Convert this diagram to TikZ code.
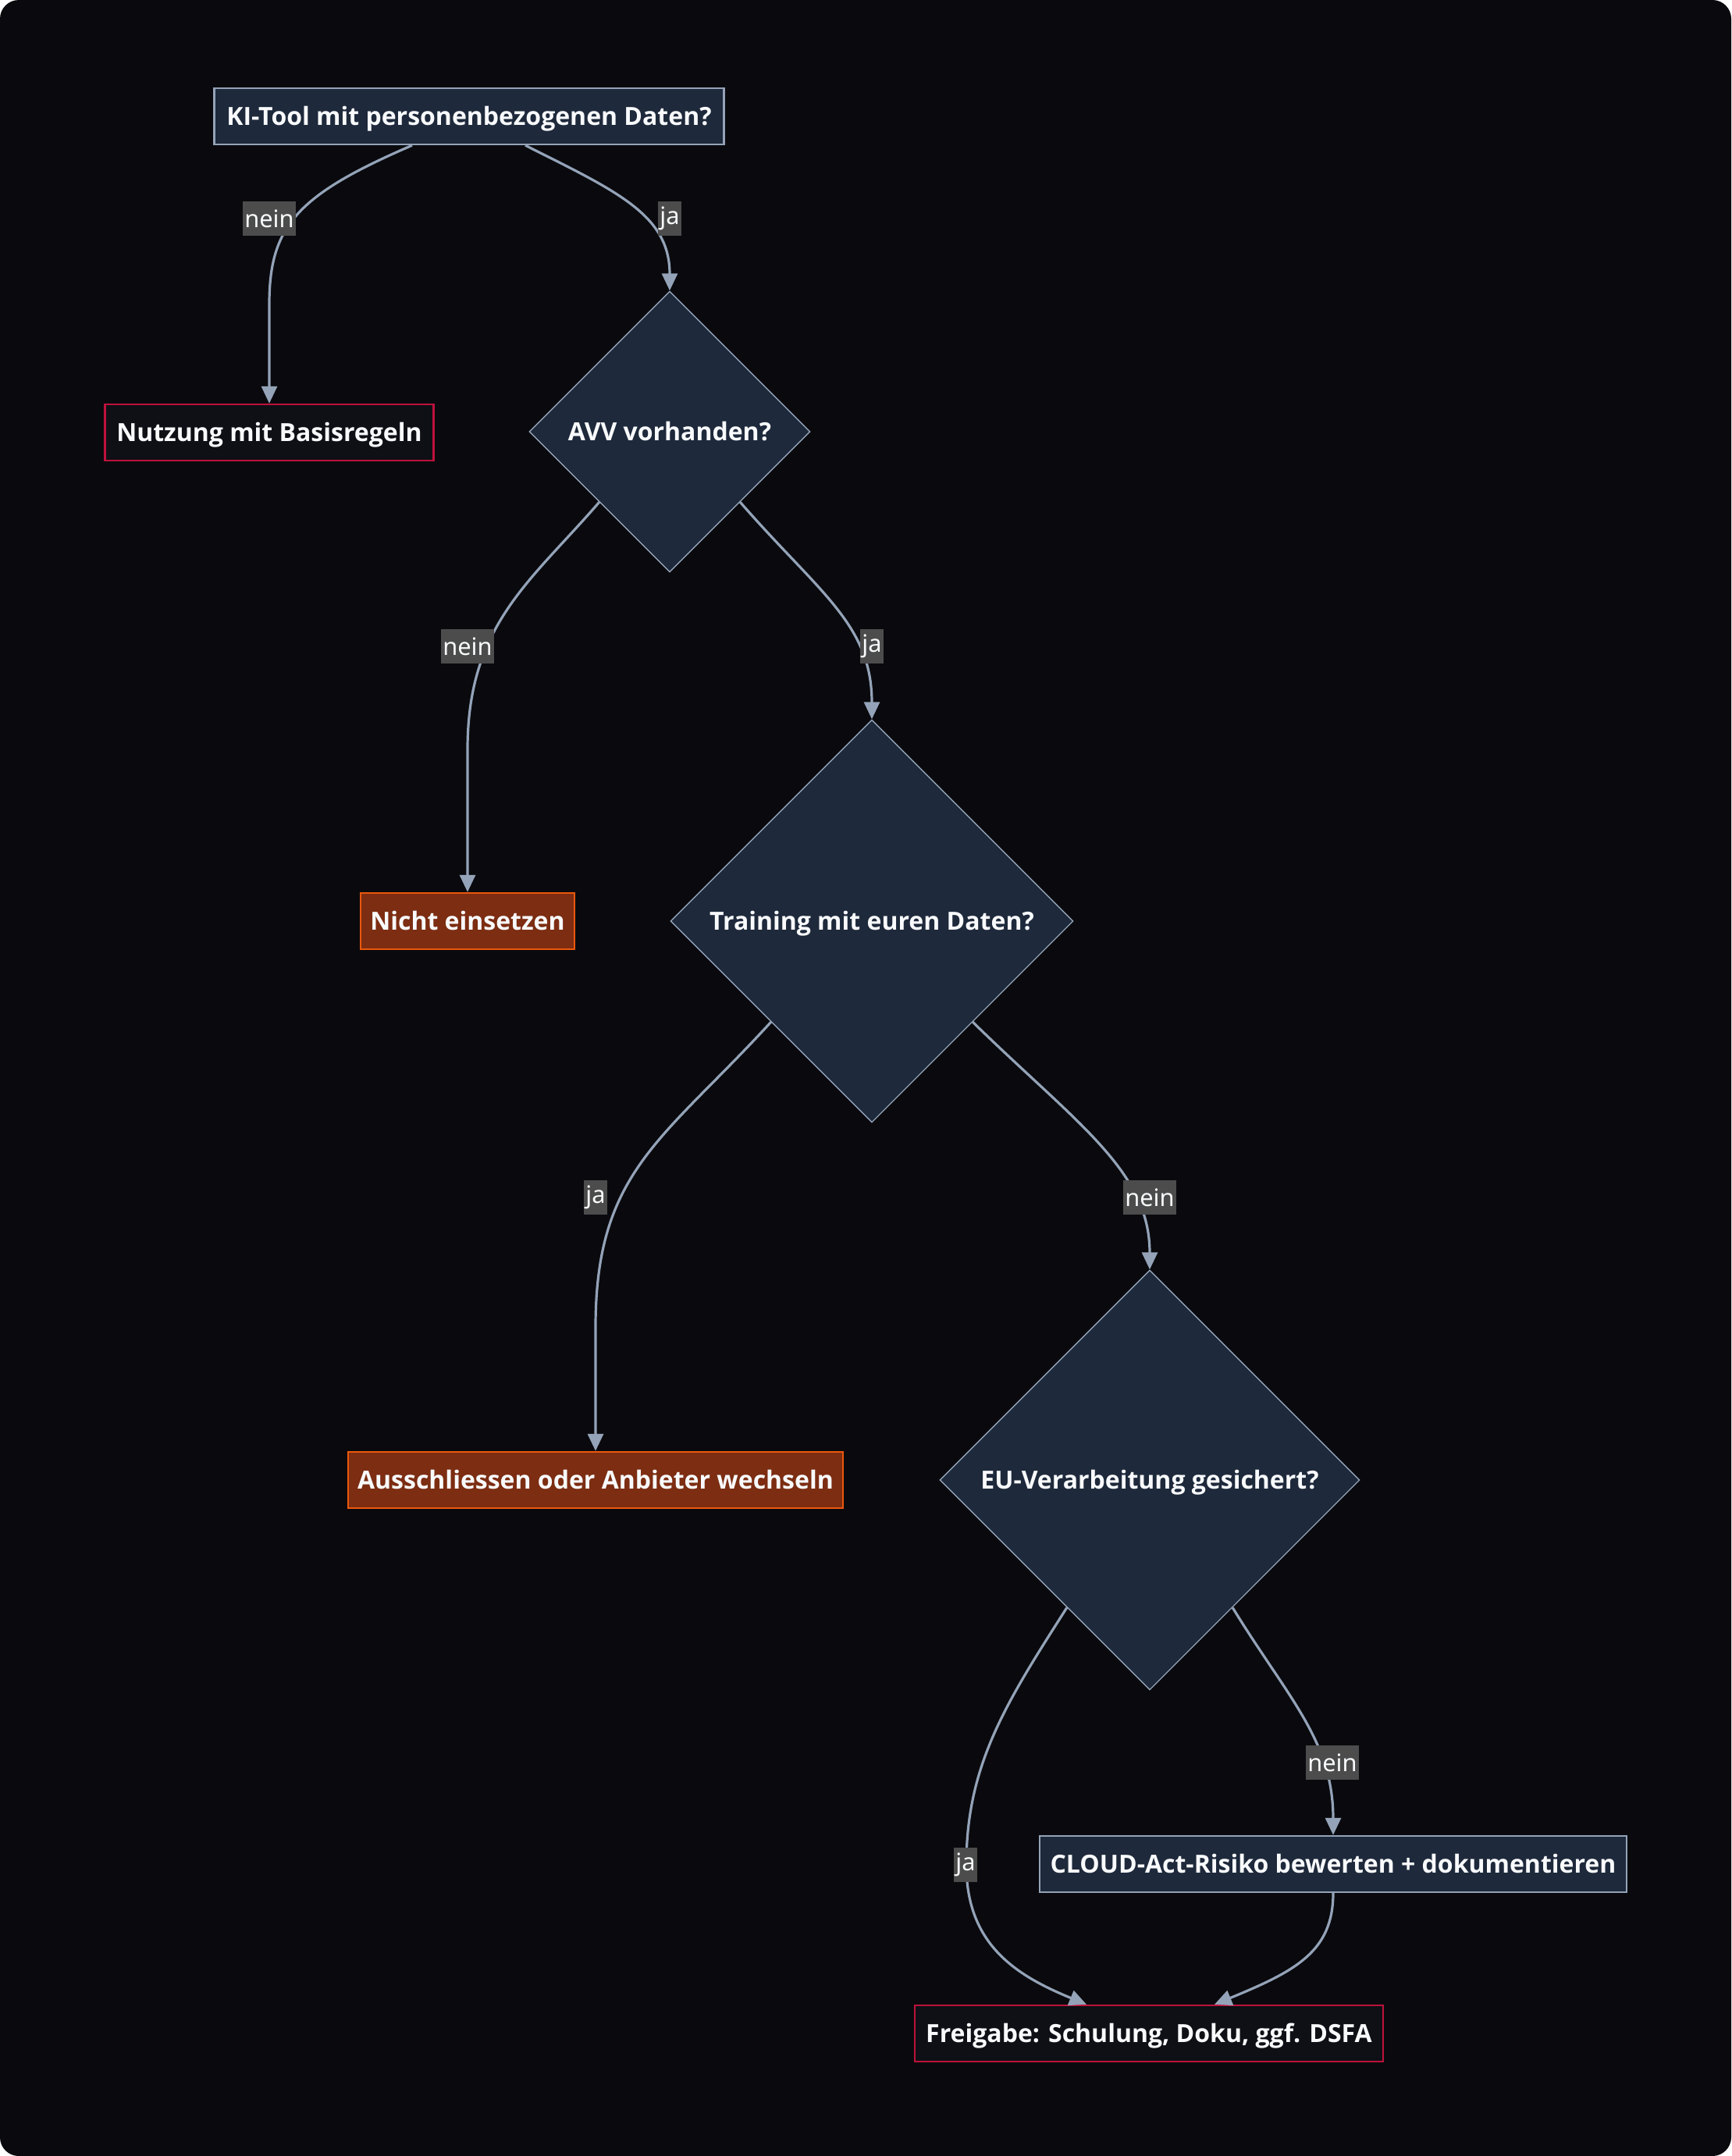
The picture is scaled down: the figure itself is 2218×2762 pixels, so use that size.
\documentclass[tikz,border=0pt]{standalone}
\usepackage{fontspec}
\setmainfont{Noto Sans}
\newfontfamily\nodefont{Open Sans}
\usepackage{tikz}
\usetikzlibrary{shapes,arrows.meta,calc,positioning}

\definecolor{bgdark}{RGB}{10,10,14}
\definecolor{slatefill}{RGB}{30,41,59}
\definecolor{slateline}{RGB}{148,163,184}
\definecolor{darkfill}{RGB}{14,16,22}
\definecolor{redline}{RGB}{190,18,60}
\definecolor{rustfill}{RGB}{124,45,18}
\definecolor{rustline}{RGB}{234,88,12}
\definecolor{edgecol}{RGB}{148,163,184}
\definecolor{lblgray}{RGB}{76,76,76}
\definecolor{txt}{RGB}{248,250,252}

\begin{document}
\begin{tikzpicture}[x=0.5pt,y=-0.5pt,
  box/.style={draw=slateline,fill=slatefill,line width=1.2pt,minimum height=36pt,
    inner sep=0pt,text=txt,text height=11.5pt,text depth=0pt,
    font=\nodefont\bfseries\fontsize{16}{19}\selectfont},
  endbox/.style={box,draw=redline,fill=darkfill},
  stopbox/.style={box,draw=rustline,fill=rustfill},
  dia/.style={diamond,draw=slateline,fill=slatefill,line width=0.7pt,inner sep=0pt,
    text=txt,text height=11.5pt,text depth=0pt,
    font=\nodefont\bfseries\fontsize{16}{19}\selectfont},
  edge/.style={draw=edgecol,line width=1.6pt,-{Triangle[length=11pt,width=10pt]}},
  lbl/.style={fill=lblgray,text=txt,inner xsep=1pt,inner ysep=0pt,minimum height=22pt,
    font=\fontsize{15.4}{18}\selectfont}]

\useasboundingbox (0,0) rectangle (2218,2762);
\fill[white] (0,0) rectangle (2218,2762);
\fill[bgdark,rounded corners=12pt] (0,0) rectangle (2218,2762);

\node[box,minimum width=326.5pt] (ki) at (601,149) {KI-Tool mit personenbezogenen Daten?};
\node[endbox,minimum width=210.5pt] (nutz) at (345,554) {Nutzung mit Basisregeln};
\node[dia,minimum width=180pt,minimum height=180pt] (avv) at (858,553) {AVV vorhanden?};
\node[stopbox,minimum width=137pt] (nicht) at (599,1180) {Nicht einsetzen};
\node[dia,minimum width=258pt,minimum height=258pt] (train) at (1117,1180) {Training mit euren Daten?};
\node[stopbox,minimum width=317pt] (aus) at (763,1896) {Ausschliessen oder Anbieter wechseln};
\node[dia,minimum width=269pt,minimum height=269pt] (eu) at (1473,1896) {EU-Verarbeitung gesichert?};
\node[box,minimum width=376pt] (cloud) at (1708,2388) {CLOUD-Act-Risiko bewerten + dokumentieren};
\node[endbox,minimum width=300pt] (frei) at (1472,2605) {Freigabe: Schulung, Doku, ggf. DSFA};

\draw[edge] ($(ki.south)+(-73,0)$) .. controls (380,250) and (345,290) .. (345,390) -- (nutz.north);
\draw[edge] ($(ki.south)+(72,0)$) .. controls (790,245) and (858,275) .. (avv.north);
\draw[edge] (avv.south west) .. controls (680,745) and (599,800) .. (599,960) -- (nicht.north);
\draw[edge] (avv.south east) .. controls (1050,760) and (1117,800) .. (train.north);
\draw[edge] (train.south west) .. controls (850,1460) and (763,1500) .. (763,1700) -- (aus.north);
\draw[edge] (train.south east) .. controls (1380,1440) and (1473,1500) .. (eu.north);
\draw[edge] (eu.-57) .. controls (1650,2175) and (1708,2230) .. (cloud.north);
\draw[edge] (eu.-123) .. controls (1290,2180) and (1238,2260) .. (1238,2389)
  .. controls (1238,2490) and (1300,2530) .. ($(frei.north)+(-80,0)$);
\draw[edge] (cloud.south) .. controls (1708,2500) and (1660,2525) .. ($(frei.north)+(84,0)$);

\node[lbl] (l1) at (345,280) {nein};
\node[lbl] (l2) at (858,280) {ja};
\node[lbl] (l3) at (599,828) {nein};
\node[lbl] (l4) at (1117,828) {ja};
\node[lbl] (l5) at (763,1534) {ja};
\node[lbl] (l6) at (1473,1534) {nein};
\node[lbl] (l7) at (1707,2258) {nein};
\node[lbl] (l8) at (1237,2389) {ja};

\end{tikzpicture}
\end{document}
